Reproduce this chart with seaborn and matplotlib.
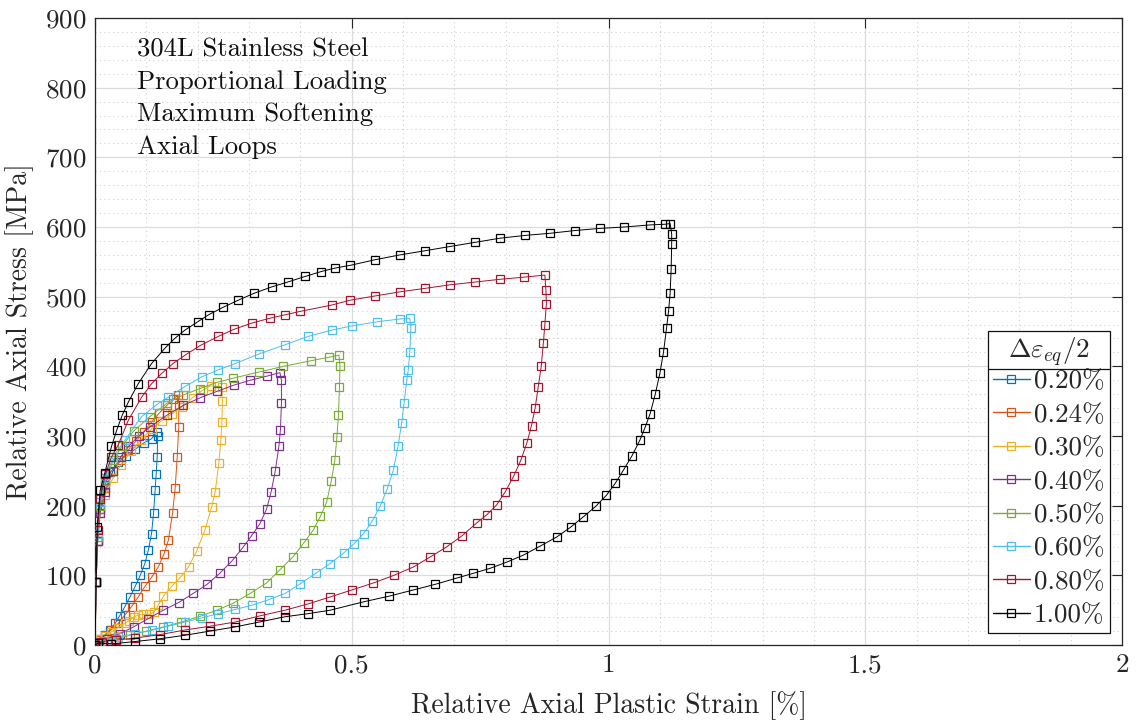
import numpy as np
import pandas as pd
import matplotlib
matplotlib.use("Agg")
import matplotlib.pyplot as plt
from matplotlib.lines import Line2D
from matplotlib.ticker import MultipleLocator
import seaborn as sns

# Stabilised hysteresis loops: (relative plastic strain [%], relative stress [MPa]),
# loading branch from the origin to the peak, then the reversed branch back.
loop_020 = [(0, 0), (0.002, 90), (0.005, 150), (0.01, 195), (0.019, 230), (0.03, 248), (0.045, 262),
            (0.06, 272), (0.078, 281), (0.095, 290), (0.110, 296), (0.120, 306),
            (0.122, 300), (0.121, 270), (0.119, 245), (0.117, 222), (0.114, 190), (0.110, 160),
            (0.104, 137), (0.097, 117), (0.088, 100), (0.078, 84), (0.068, 69), (0.058, 55),
            (0.048, 42), (0.039, 31), (0.029, 22), (0.019, 14), (0.010, 8), (0.003, 3), (0, 0)]
loop_024 = [(0, 0), (0.002, 90), (0.005, 150), (0.01, 195), (0.02, 225), (0.035, 250), (0.05, 265),
            (0.065, 280), (0.08, 293), (0.095, 306), (0.11, 320), (0.125, 333), (0.14, 344),
            (0.152, 353), (0.162, 359),
            (0.163, 345), (0.163, 313), (0.160, 270), (0.156, 225), (0.151, 190), (0.143, 151),
            (0.134, 130), (0.123, 112), (0.110, 97), (0.097, 84), (0.084, 69), (0.071, 55),
            (0.058, 43), (0.045, 31), (0.032, 22), (0.019, 14), (0.008, 7), (0, 0)]
loop_030 = [(0, 0), (0.002, 90), (0.005, 150), (0.01, 190), (0.02, 215), (0.035, 240), (0.05, 258),
            (0.07, 278), (0.09, 295), (0.11, 310), (0.13, 322), (0.15, 332), (0.17, 342),
            (0.19, 355), (0.21, 366), (0.225, 372), (0.247, 370),
            (0.248, 350), (0.247, 320), (0.245, 294), (0.241, 261), (0.234, 220), (0.227, 198),
            (0.214, 165), (0.198, 135), (0.182, 112), (0.166, 97), (0.149, 84), (0.133, 70),
            (0.123, 57), (0.115, 47), (0.105, 44), (0.094, 44), (0.084, 43), (0.075, 40),
            (0.066, 35), (0.058, 31), (0.045, 25), (0.032, 19), (0.02, 13), (0.01, 8), (0, 0)]
loop_040 = [(0, 0), (0.002, 90), (0.005, 150), (0.01, 190), (0.02, 220), (0.035, 250), (0.05, 270),
            (0.065, 285), (0.085, 300), (0.107, 313), (0.14, 330), (0.172, 344), (0.205, 355),
            (0.237, 364), (0.27, 373), (0.302, 380), (0.335, 386), (0.36, 391),
            (0.363, 380), (0.363, 347), (0.361, 309), (0.358, 285), (0.351, 250), (0.343, 220),
            (0.334, 195), (0.321, 174), (0.305, 157), (0.289, 141), (0.267, 121), (0.243, 103),
            (0.218, 87), (0.191, 74), (0.163, 61), (0.133, 50), (0.104, 38), (0.075, 26),
            (0.048, 16), (0.023, 9), (0.008, 4), (0, 0)]
loop_050 = [(0, 0), (0.002, 90), (0.005, 155), (0.01, 200), (0.02, 235), (0.035, 265), (0.052, 285),
            (0.075, 307), (0.107, 328), (0.14, 347), (0.172, 359), (0.204, 368), (0.237, 377),
            (0.269, 383), (0.32, 392), (0.367, 400), (0.42, 408), (0.455, 413), (0.475, 416),
            (0.477, 400), (0.476, 371), (0.474, 330), (0.471, 299), (0.467, 265), (0.460, 235),
            (0.451, 205), (0.439, 185), (0.425, 165), (0.406, 146), (0.386, 127), (0.360, 108),
            (0.334, 89), (0.302, 74), (0.269, 60), (0.237, 50), (0.204, 41), (0.168, 33),
            (0.133, 26), (0.100, 20), (0.068, 14), (0.040, 9), (0.016, 5), (0, 0)]
loop_060 = [(0, 0), (0.002, 90), (0.005, 160), (0.01, 205), (0.02, 240), (0.035, 270), (0.058, 294),
            (0.091, 328), (0.12, 345), (0.143, 356), (0.175, 371), (0.208, 385), (0.24, 395),
            (0.273, 404), (0.32, 418), (0.37, 431), (0.415, 443), (0.461, 452), (0.5, 458),
            (0.55, 464), (0.594, 468), (0.613, 469),
            (0.615, 455), (0.613, 420), (0.610, 395), (0.607, 380), (0.602, 348), (0.597, 318),
            (0.590, 285), (0.581, 251), (0.569, 224), (0.555, 199), (0.540, 178), (0.523, 160),
            (0.504, 145), (0.484, 132), (0.458, 117), (0.43, 103), (0.40, 88), (0.37, 74),
            (0.338, 65), (0.305, 57), (0.273, 51), (0.240, 45), (0.208, 39), (0.175, 33),
            (0.143, 27), (0.110, 21), (0.078, 16), (0.045, 12), (0.015, 6), (0, 0)]
loop_080 = [(0, 0), (0.002, 90), (0.005, 165), (0.01, 210), (0.02, 245), (0.032, 270), (0.045, 287),
            (0.065, 323), (0.091, 356), (0.11, 375), (0.13, 390), (0.152, 404), (0.175, 416),
            (0.205, 430), (0.24, 443), (0.27, 453), (0.305, 462), (0.34, 469), (0.37, 474),
            (0.4, 479), (0.461, 488), (0.497, 495), (0.545, 501), (0.594, 507), (0.643, 512),
            (0.691, 517), (0.74, 521), (0.789, 525), (0.835, 528), (0.876, 531),
            (0.878, 510), (0.879, 490), (0.876, 460), (0.873, 433), (0.869, 400), (0.863, 370),
            (0.857, 340), (0.850, 315), (0.841, 290), (0.829, 265), (0.815, 242), (0.799, 220),
            (0.782, 201), (0.763, 187), (0.743, 175), (0.715, 157), (0.685, 141), (0.652, 126),
            (0.620, 112), (0.582, 100), (0.542, 89), (0.50, 79), (0.458, 69), (0.415, 59),
            (0.37, 50), (0.322, 42), (0.273, 33), (0.224, 27), (0.175, 21.5), (0.127, 15),
            (0.078, 10), (0.04, 7), (0.013, 5), (0, 0)]
loop_100 = [(0, 0), (0.002, 90), (0.004, 170), (0.01, 222), (0.019, 247), (0.032, 285), (0.042, 308),
            (0.053, 330), (0.065, 349), (0.084, 375), (0.11, 404), (0.136, 426), (0.155, 440),
            (0.175, 452), (0.2, 464), (0.221, 474), (0.25, 485), (0.279, 495), (0.31, 505),
            (0.344, 514), (0.375, 521), (0.409, 529), (0.44, 536), (0.467, 541), (0.497, 545),
            (0.545, 553), (0.594, 560), (0.643, 566), (0.691, 572), (0.74, 578), (0.789, 584),
            (0.838, 588), (0.886, 591), (0.935, 595), (0.983, 598), (1.03, 600), (1.081, 603),
            (1.11, 604), (1.12, 605),
            (1.123, 590), (1.123, 576), (1.122, 540), (1.12, 505), (1.117, 480), (1.113, 455),
            (1.107, 420), (1.100, 390), (1.091, 360), (1.081, 332), (1.071, 312), (1.061, 294),
            (1.046, 272), (1.029, 251), (1.013, 232), (0.996, 215), (0.975, 199), (0.951, 184),
            (0.926, 169), (0.899, 155), (0.867, 142), (0.834, 129), (0.802, 119), (0.769, 110),
            (0.737, 103), (0.704, 96), (0.662, 87), (0.620, 79), (0.572, 70), (0.523, 62),
            (0.458, 50), (0.415, 45), (0.37, 40.6), (0.32, 33), (0.273, 26), (0.224, 20),
            (0.175, 14), (0.127, 9), (0.078, 5), (0.032, 1.5), (0.006, 3), (0, 0)]

amplitude_labels = ["0.20%", "0.24%", "0.30%", "0.40%", "0.50%", "0.60%", "0.80%", "1.00%"]
loops = [loop_020, loop_024, loop_030, loop_040, loop_050, loop_060, loop_080, loop_100]
colors = ["#0072BD", "#D95319", "#EDB120", "#7E2F8E", "#77AC30", "#4DBEEE", "#A2142F", "#000000"]

xtick_values = [0, 0.5, 1, 1.5, 2]
xtick_labels = ["0", "0.5", "1", "1.5", "2"]
ytick_values = list(range(0, 1000, 100))

annotation_lines = ["304L Stainless Steel", "Proportional Loading", "Maximum Softening", "Axial Loops"]

sns.set_theme(style="white")
plt.rcParams.update({
    "font.family": "serif",
    "font.serif": ["cmr10", "DejaVu Serif"],
    "mathtext.fontset": "cm",
    "axes.unicode_minus": False,
    "axes.formatter.use_mathtext": True,
})

fig = plt.figure(figsize=(11.37, 7.24), dpi=100)
ax = fig.add_axes([0.0836, 0.1091, 0.9032, 0.866])

for label, pts, col in zip(amplitude_labels, loops, colors):
    df = pd.DataFrame(pts, columns=["strain", "stress"])
    sns.lineplot(data=df, x="strain", y="stress", sort=False, estimator=None, ax=ax,
                 color=col, linewidth=0.7, marker="s", markersize=5.5,
                 markerfacecolor="none", markeredgecolor=col, markeredgewidth=0.9,
                 label=label, zorder=3)

ax.set_xlim(0, 2)
ax.set_ylim(0, 900)
ax.set_xticks(xtick_values, labels=xtick_labels)
ax.set_yticks(ytick_values)
ax.xaxis.set_minor_locator(MultipleLocator(0.1))
ax.yaxis.set_minor_locator(MultipleLocator(20))

ax.grid(which="major", color="#dcdcdc", linewidth=0.9, linestyle="-", zorder=0)
ax.grid(which="minor", color="#cfcfcf", linewidth=0.8, linestyle=(0, (1, 3)), zorder=0)
ax.set_axisbelow(True)

for side in ["left", "right", "top", "bottom"]:
    ax.spines[side].set_color("#262626")
    ax.spines[side].set_linewidth(0.9)
ax.tick_params(which="major", direction="in", length=7, width=0.8, color="#262626",
               top=True, right=True, labelsize=19.5, labelcolor="#262626", pad=6)
ax.tick_params(which="minor", length=0, top=True, right=True)

ax.set_xlabel("Relative Axial Plastic Strain [%]", fontsize=20, color="#262626", labelpad=10)
ax.set_ylabel("Relative Axial Stress [MPa]", fontsize=20, color="#262626", labelpad=8)

ax.text(0.041, 0.969, "\n".join(annotation_lines), transform=ax.transAxes,
        ha="left", va="top", fontsize=19.2, color="#111111", linespacing=1.47)

leg = ax.legend(title=r"$\Delta\varepsilon_{eq}/2$", loc="lower right", fontsize=19.5,
                title_fontsize=19.5, frameon=True, fancybox=False, edgecolor="#111111",
                framealpha=1, borderaxespad=0.45, handlelength=1.35, handletextpad=0.15,
                labelspacing=0.35, borderpad=0.2)
leg._legend_box.sep = 0
leg.get_frame().set_linewidth(0.9)
for h in leg.legend_handles:
    h.set_linewidth(1.0)

# Rule between the legend title and its entries
fig.canvas.draw()
renderer = fig.canvas.get_renderer()
fb = leg.get_frame().get_window_extent(renderer)
tb = leg.get_title().get_window_extent(renderer)
first = leg.get_texts()[0].get_window_extent(renderer)
y_sep = 0.5 * (tb.y0 + first.y1)
inv = fig.transFigure.inverted()
(x0f, yf), (x1f, _) = inv.transform([(fb.x0, y_sep), (fb.x1, y_sep)])
fig.add_artist(Line2D([x0f, x1f], [yf, yf], transform=fig.transFigure,
                      color="#111111", linewidth=0.9, zorder=10))

fig.savefig("out.png", dpi=100)
